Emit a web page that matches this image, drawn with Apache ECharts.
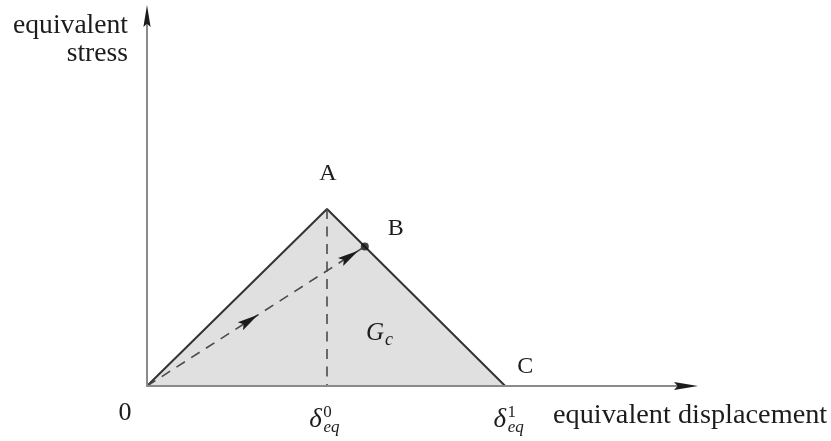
<!DOCTYPE html>
<html>
<head>
<meta charset="utf-8">
<script src="https://cdn.jsdelivr.net/npm/echarts@6/dist/echarts.min.js"></script>
<style>
  html, body { margin: 0; padding: 0; background: #ffffff; }
  #chart { width: 831px; height: 441px; }
</style>
</head>
<body>
<div id="chart"></div>
<script>
// Bilinear traction-separation law: equivalent stress vs equivalent displacement.
// Envelope O -> A (peak) -> C (full failure), in units of delta_eq^0 and peak stress.
const envelopeX = [0, 1, 1.99];
const envelopeY = [0, 1, 0];
const envelopeNames = ['0', 'A', 'C'];

// B: damaged state on the softening branch, reached along a dashed loading path
const unloadX = 1.21;
const unloadY = 0.788;
const unloadName = 'B';

// arrowheads on the O -> B path, as fractions of its length
const pathArrowAt = [0.51, 0.97];

// displacement ticks: delta_eq^0 and delta_eq^1
const xTickValues = [1, 1.99];
const xTickSup = ['0', '1'];

const areaLabel = 'G';
const areaLabelSub = 'c';
const xTitle = 'equivalent displacement';
const yTitle = ['equivalent', 'stress'];

const xMax = 3.0;
const yMax = 2.09;

const SERIF = '"Liberation Serif", "DejaVu Serif", serif';
const INK = '#1c1c1c';

const chart = echarts.init(document.getElementById('chart'));

// filled arrowhead with a slightly notched back, pointing from `from` towards `tip`
function arrowHead(tip, from, len, half, notch) {
  const dx = tip[0] - from[0], dy = tip[1] - from[1];
  const d = Math.hypot(dx, dy);
  const ux = dx / d, uy = dy / d, px = -uy, py = ux;
  const bx = tip[0] - ux * len, by = tip[1] - uy * len;
  return {
    type: 'polygon',
    shape: { points: [
      tip,
      [bx + px * half, by + py * half],
      [tip[0] - ux * len * notch, tip[1] - uy * len * notch],
      [bx - px * half, by - py * half]
    ] },
    style: { fill: INK }
  };
}

function label(str, x, y, size, extra) {
  return {
    type: 'text',
    x: x, y: y,
    style: Object.assign({
      text: str,
      fill: INK,
      fontFamily: SERIF,
      fontSize: size,
      align: 'center',
      verticalAlign: 'middle'
    }, extra || {})
  };
}

function renderAnnotations(params, api) {
  const O = api.coord([0, 0]);
  const A = api.coord([envelopeX[1], envelopeY[1]]);
  const C = api.coord([envelopeX[2], envelopeY[2]]);
  const B = api.coord([unloadX, unloadY]);
  const xEnd = api.coord([xMax, 0]);
  const yEnd = api.coord([0, yMax]);
  const kids = [];

  // axis arrowheads
  kids.push(arrowHead([xEnd[0] + 11, xEnd[1]], O, 24, 4, 0.85));
  kids.push(arrowHead([yEnd[0], yEnd[1] - 11], O, 22, 3.6, 0.85));

  // arrowheads along the dashed loading path
  pathArrowAt.forEach(function (f) {
    const tip = api.coord([unloadX * f, unloadY * f]);
    kids.push(arrowHead(tip, O, 21, 4.8, 0.82));
  });

  // point labels
  kids.push(label(envelopeNames[0], O[0] - 22, O[1] + 27, 26));
  kids.push(label(envelopeNames[1], A[0] + 1, A[1] - 35, 24));
  kids.push(label(unloadName, B[0] + 31, B[1] - 18, 24));
  kids.push(label(envelopeNames[2], C[0] + 20, C[1] - 19, 24));

  // fracture energy label inside the triangle
  kids.push(label(areaLabel, A[0] + 48, O[1] - 53, 25, { fontStyle: 'italic' }));
  kids.push(label(areaLabelSub, A[0] + 62, O[1] - 46, 18, { fontStyle: 'italic' }));

  // delta_eq tick labels
  const shifts = [-11.5, -5.5];
  xTickValues.forEach(function (v, i) {
    const p = api.coord([v, 0]);
    const cx = p[0] + shifts[i];
    kids.push(label('\u03b4', cx, p[1] + 34, 27, { fontStyle: 'italic' }));
    kids.push(label(xTickSup[i], cx + 12, p[1] + 27, 17, { align: 'center' }));
    kids.push(label('eq', cx + 8, p[1] + 42, 17, { align: 'left', fontStyle: 'italic' }));
  });

  // axis titles
  kids.push(label(xTitle, xEnd[0] - 134, O[1] + 30, 28.3, { align: 'left' }));
  kids.push(label(yTitle[0], yEnd[0] - 19, yEnd[1] + 10, 27.6, { align: 'right' }));
  kids.push(label(yTitle[1], yEnd[0] - 19, yEnd[1] + 38, 27.6, { align: 'right' }));

  return { type: 'group', children: kids };
}

const dashStyle = { color: '#4a4a4a', width: 1.6, type: [10, 7.5] };

chart.setOption({
  animation: false,
  backgroundColor: '#ffffff',
  grid: { left: 147, right: 144, top: 16, bottom: 55 },
  xAxis: {
    type: 'value', min: 0, max: xMax, z: 5,
    axisLine: { show: true, onZero: false, lineStyle: { color: '#8a8a8a', width: 2 } },
    axisTick: { show: false }, axisLabel: { show: false }, splitLine: { show: false }
  },
  yAxis: {
    type: 'value', min: 0, max: yMax, z: 5,
    axisLine: { show: true, onZero: false, lineStyle: { color: '#8a8a8a', width: 2 } },
    axisTick: { show: false }, axisLabel: { show: false }, splitLine: { show: false }
  },
  series: [
    {
      type: 'line',
      data: envelopeX.map(function (x, i) { return [x, envelopeY[i]]; }),
      symbol: 'none',
      lineStyle: { color: '#333333', width: 2 },
      areaStyle: { color: '#e0e0e0', opacity: 1 },
      z: 2
    },
    {
      type: 'line',
      data: [[envelopeX[1], envelopeY[1]], [envelopeX[1], 0]],
      symbol: 'none',
      lineStyle: dashStyle,
      z: 3
    },
    {
      type: 'line',
      data: [[0, 0], [unloadX, unloadY]],
      symbol: 'none',
      lineStyle: dashStyle,
      z: 3
    },
    {
      type: 'scatter',
      data: [[unloadX, unloadY]],
      symbol: 'circle',
      symbolSize: 8,
      itemStyle: { color: '#111111' },
      z: 6
    },
    {
      type: 'custom',
      data: [[0, 0]],
      clip: false,
      silent: true,
      renderItem: renderAnnotations,
      z: 7
    }
  ]
});
</script>
</body>
</html>
